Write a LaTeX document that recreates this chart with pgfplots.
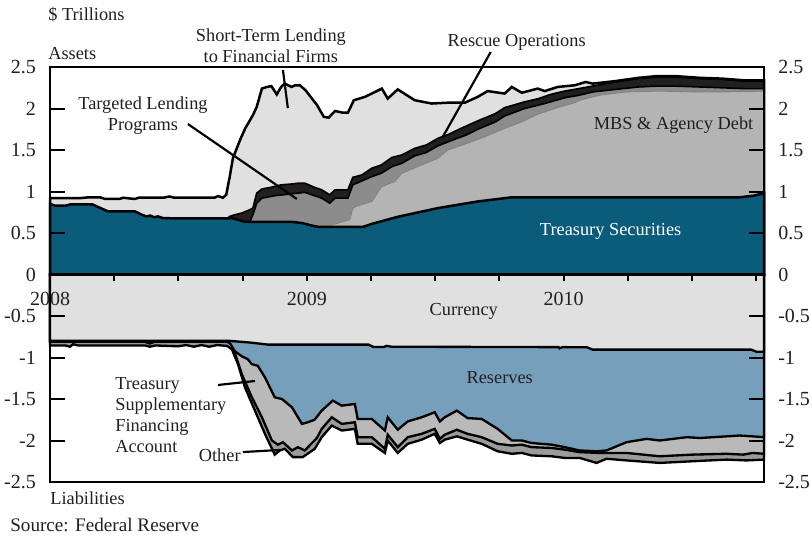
\documentclass[border=0pt]{standalone}
\usepackage{fontspec}
\setmainfont{Liberation Serif}
\usepackage{pgfplots}
\pgfplotsset{compat=1.18}
\usepackage{pgfplotstable}
\definecolor{tsec}{RGB}{11,92,122}
\definecolor{ltgray}{RGB}{224,224,224}
\definecolor{blk}{RGB}{35,31,32}
\definecolor{dgray}{RGB}{140,140,140}
\definecolor{mgray}{RGB}{180,180,180}
\definecolor{resblue}{RGB}{118,159,188}
\definecolor{tsfa}{RGB}{185,185,185}
\definecolor{oth}{RGB}{155,155,155}
\definecolor{txt}{RGB}{35,31,32}

% ---- Assets: cumulative upper boundaries (x in years) ----
\pgfplotstableread{
x y
2008.000 0.92
2008.117 0.92
2008.150 0.93
2008.195 0.93
2008.215 0.91
2008.270 0.91
2008.285 0.925
2008.330 0.91
2008.345 0.925
2008.440 0.925
2008.465 0.94
2008.485 0.925
2008.640 0.925
2008.655 0.945
2008.673 0.925
2008.686 0.96
2008.700 1.18
2008.712 1.40
2008.740 1.62
2008.760 1.76
2008.790 1.92
2008.805 2.02
2008.825 2.24
2008.845 2.26
2008.862 2.27
2008.883 2.17
2008.900 2.26
2008.914 2.30
2008.940 2.26
2008.955 2.28
2008.973 2.28
2008.995 2.22
2009.020 2.12
2009.040 2.04
2009.066 1.90
2009.085 1.89
2009.110 1.97
2009.140 1.95
2009.160 1.95
2009.183 2.10
2009.226 2.14
2009.253 2.18
2009.292 2.24
2009.315 2.12
2009.354 2.23
2009.420 2.10
2009.486 2.06
2009.549 2.07
2009.615 2.07
2009.665 2.14
2009.704 2.21
2009.770 2.18
2009.798 2.26
2009.837 2.19
2009.899 2.24
2009.926 2.21
2009.977 2.26
2010.043 2.28
2010.086 2.32
2010.113 2.30
2010.200 2.33
2010.292 2.37
2010.360 2.39
2010.436 2.39
2010.530 2.37
2010.619 2.36
2010.700 2.34
2010.780 2.34
}\tST
\pgfplotstableread{
x y
2008.000 0.50
2008.680 0.50
2008.690 0.675
2008.700 0.70
2008.720 0.72
2008.747 0.74
2008.778 0.78
2008.790 0.80
2008.805 0.98
2008.825 1.03
2008.860 1.05
2008.900 1.08
2008.940 1.09
2008.965 1.10
2008.992 1.10
2009.030 1.05
2009.058 1.02
2009.089 0.96
2009.110 1.02
2009.160 1.02
2009.179 1.17
2009.215 1.20
2009.253 1.28
2009.290 1.32
2009.331 1.41
2009.370 1.44
2009.420 1.52
2009.465 1.56
2009.510 1.64
2009.553 1.69
2009.600 1.76
2009.665 1.85
2009.735 1.94
2009.770 2.01
2009.848 2.08
2009.903 2.12
2009.950 2.17
2010.004 2.21
2010.060 2.24
2010.113 2.27
2010.200 2.32
2010.292 2.36
2010.360 2.38
2010.436 2.38
2010.530 2.36
2010.619 2.35
2010.700 2.33
2010.780 2.33
}\tRO
\pgfplotstableread{
x y
2008.000 0.50
2008.770 0.50
2008.778 0.635
2008.790 0.72
2008.805 0.86
2008.825 0.92
2008.875 0.95
2008.934 0.97
2008.992 0.99
2009.030 0.95
2009.058 0.92
2009.089 0.86
2009.110 0.92
2009.160 0.92
2009.179 1.08
2009.253 1.18
2009.290 1.22
2009.331 1.30
2009.370 1.34
2009.420 1.43
2009.465 1.47
2009.510 1.55
2009.576 1.63
2009.620 1.68
2009.665 1.75
2009.735 1.84
2009.770 1.91
2009.848 2.00
2009.926 2.06
2010.004 2.13
2010.060 2.16
2010.113 2.20
2010.200 2.23
2010.292 2.26
2010.360 2.27
2010.436 2.27
2010.530 2.26
2010.619 2.25
2010.700 2.24
2010.780 2.24
}\tTL
\pgfplotstableread{
x y
2008.000 0.50
2009.060 0.50
2009.070 0.575
2009.100 0.60
2009.167 0.66
2009.180 0.80
2009.190 0.82
2009.253 0.88
2009.292 1.06
2009.342 1.12
2009.370 1.22
2009.432 1.30
2009.510 1.40
2009.549 1.50
2009.615 1.57
2009.693 1.66
2009.770 1.76
2009.837 1.84
2009.899 1.93
2009.965 2.00
2010.043 2.07
2010.062 2.10
2010.140 2.16
2010.245 2.20
2010.374 2.21
2010.502 2.20
2010.634 2.20
2010.780 2.21
}\tMB
\pgfplotstableread{
x y
2008.000 0.85
2008.020 0.83
2008.060 0.83
2008.080 0.845
2008.165 0.845
2008.226 0.76
2008.331 0.76
2008.358 0.72
2008.375 0.70
2008.390 0.71
2008.405 0.69
2008.420 0.70
2008.440 0.68
2008.500 0.675
2008.690 0.675
2008.708 0.68
2008.759 0.635
2008.940 0.635
2008.981 0.62
2009.019 0.59
2009.043 0.575
2009.220 0.575
2009.253 0.61
2009.354 0.695
2009.510 0.80
2009.665 0.88
2009.798 0.93
2010.685 0.93
2010.740 0.95
2010.780 0.98
}\tTS

% ---- Liabilities: cumulative lower boundaries ----
\pgfplotstableread{
x y
2008.000 -0.80
2008.700 -0.80
2008.780 -0.82
2008.850 -0.845
2009.240 -0.845
2009.260 -0.873
2009.300 -0.873
2009.310 -0.86
2009.330 -0.87
2009.980 -0.875
2009.984 -0.89
2009.995 -0.875
2010.090 -0.877
2010.113 -0.905
2010.730 -0.905
2010.750 -0.93
2010.780 -0.93
}\tCU
\pgfplotstableread{
x y
2008.000 -0.81
2008.370 -0.81
2008.389 -0.83
2008.405 -0.81
2008.689 -0.81
2008.700 -0.825
2008.720 -0.925
2008.747 -0.985
2008.770 -1.02
2008.786 -1.08
2008.809 -1.10
2008.837 -1.24
2008.875 -1.48
2008.903 -1.50
2008.942 -1.60
2008.981 -1.80
2009.004 -1.78
2009.030 -1.75
2009.058 -1.64
2009.101 -1.52
2009.136 -1.58
2009.187 -1.56
2009.198 -1.74
2009.253 -1.74
2009.304 -1.88
2009.315 -1.72
2009.354 -1.87
2009.393 -1.77
2009.447 -1.72
2009.498 -1.66
2009.518 -1.77
2009.537 -1.72
2009.584 -1.64
2009.626 -1.73
2009.681 -1.74
2009.743 -1.86
2009.798 -2.00
2009.837 -2.00
2009.875 -2.03
2009.953 -2.05
2010.004 -2.08
2010.062 -2.12
2010.128 -2.13
2010.167 -2.12
2010.245 -2.02
2010.323 -1.98
2010.374 -2.00
2010.479 -1.96
2010.530 -1.97
2010.634 -1.95
2010.685 -1.94
2010.735 -1.95
2010.780 -1.96
}\tRE
\pgfplotstableread{
x y
2008.000 -0.81
2008.370 -0.81
2008.389 -0.83
2008.405 -0.81
2008.689 -0.81
2008.708 -0.83
2008.720 -0.95
2008.747 -1.20
2008.786 -1.48
2008.825 -1.72
2008.864 -2.00
2008.887 -2.05
2008.907 -2.02
2008.942 -2.12
2008.965 -2.08
2008.992 -2.12
2009.039 -1.97
2009.058 -1.86
2009.097 -1.72
2009.136 -1.80
2009.187 -1.78
2009.198 -1.96
2009.253 -1.96
2009.304 -2.10
2009.315 -1.93
2009.354 -2.08
2009.393 -1.96
2009.447 -1.92
2009.498 -1.86
2009.518 -1.98
2009.537 -1.93
2009.584 -1.87
2009.626 -1.92
2009.681 -1.96
2009.743 -2.04
2009.798 -2.06
2009.837 -2.05
2009.875 -2.08
2009.953 -2.09
2010.004 -2.11
2010.062 -2.14
2010.140 -2.15
2010.245 -2.15
2010.374 -2.19
2010.502 -2.17
2010.634 -2.16
2010.700 -2.17
2010.735 -2.15
2010.780 -2.16
}\tTF
\pgfplotstableread{
x y
2008.000 -0.855
2008.060 -0.855
2008.078 -0.87
2008.090 -0.84
2008.110 -0.855
2008.370 -0.855
2008.389 -0.87
2008.410 -0.855
2008.500 -0.865
2008.530 -0.85
2008.560 -0.87
2008.590 -0.85
2008.620 -0.87
2008.650 -0.85
2008.689 -0.86
2008.708 -0.90
2008.732 -1.08
2008.759 -1.36
2008.798 -1.64
2008.837 -1.92
2008.875 -2.17
2008.895 -2.12
2008.914 -2.10
2008.946 -2.20
2008.984 -2.20
2009.031 -2.10
2009.058 -1.96
2009.097 -1.82
2009.136 -1.88
2009.187 -1.86
2009.198 -2.04
2009.253 -2.04
2009.304 -2.15
2009.315 -2.00
2009.354 -2.15
2009.393 -2.04
2009.447 -1.99
2009.498 -1.92
2009.518 -2.03
2009.537 -1.99
2009.584 -1.95
2009.626 -1.99
2009.681 -2.04
2009.743 -2.13
2009.798 -2.16
2009.837 -2.15
2009.875 -2.18
2009.953 -2.19
2010.004 -2.21
2010.062 -2.21
2010.128 -2.27
2010.167 -2.22
2010.245 -2.24
2010.374 -2.27
2010.502 -2.25
2010.634 -2.23
2010.712 -2.24
2010.780 -2.23
}\tOT

\begin{document}
\begin{tikzpicture}
\useasboundingbox (-30pt,-36pt) rectangle (457.2pt,289.2pt);
% x axis runs in years after the start of 2008
\begin{axis}[
  at={(0,0)}, anchor=south west,
  scale only axis, width=428.4pt, height=249pt,
  xmin=0, xmax=2.78, ymin=-2.5, ymax=2.5,
  clip=false, axis on top,
  xtick=\empty,
  ytick={-2.5,-2,-1.5,-1,-0.5,0,0.5,1,1.5,2,2.5},
  yticklabels={-2.5,-2,-1.5,-1,-0.5,0,0.5,1,1.5,2,2.5},
  ytick pos=both, yticklabel pos=left,
  tick align=inside, major tick length=9pt,
  axis line style={line width=1.4pt, black},
  every tick/.style={black, line width=1.2pt},
  yticklabel style={font=\fontsize{12}{12}\selectfont, text=txt, xshift=-5pt},
  every axis plot/.append style={x filter/.expression={x-2008}},
]
% assets
\addplot[fill=ltgray, draw=black, line width=1.5pt] table {\tST} \closedcycle;
\addplot[fill=blk, draw=black, line width=1pt] table {\tRO} \closedcycle;
\addplot[fill=dgray, draw=black, line width=1pt] table {\tTL} \closedcycle;
\addplot[fill=mgray, draw=gray, line width=0.5pt] table {\tMB} \closedcycle;
\addplot[fill=tsec, draw=black, line width=1.5pt] table {\tTS} \closedcycle;
% liabilities
\addplot[fill=oth, draw=black, line width=1.4pt] table {\tOT} \closedcycle;
\addplot[fill=tsfa, draw=black, line width=1.4pt] table {\tTF} \closedcycle;
\addplot[fill=resblue, draw=black, line width=1.4pt] table {\tRE} \closedcycle;
\addplot[fill=ltgray, draw=black, line width=1.4pt] table {\tCU} \closedcycle;

% zero line and x ticks
\draw[line width=1.6pt, black] (axis cs:0,0) -- (axis cs:2.78,0);
\pgfplotsinvokeforeach{0.25,0.5,0.75,1,1.25,1.5,1.75,2,2.25,2.5,2.75}{
  \draw[line width=1.2pt, black] (axis cs:#1,0) -- (axis cs:#1,-0.075);
}
\node[font=\fontsize{12}{12}\selectfont, text=txt] at (axis cs:0,-0.30) {2008};
\node[font=\fontsize{12}{12}\selectfont, text=txt] at (axis cs:1,-0.30) {2009};
\node[font=\fontsize{12}{12}\selectfont, text=txt] at (axis cs:2,-0.30) {2010};
% right tick labels
\pgfplotsinvokeforeach{-2.5,-2,-1.5,-1,-0.5,0,0.5,1,1.5,2,2.5}{
  \node[anchor=west, font=\fontsize{12}{12}\selectfont, text=txt, inner sep=0pt] at (axis cs:2.78,#1) [xshift=8.4pt] {#1};
}

% annotations
\begin{scope}[every node/.style={font=\fontsize{11}{12.6}\selectfont, text=txt}]
\node[align=center] at (axis cs:0.860,2.753) {Short-Term Lending\\to Financial Firms};
\draw[line width=1.3pt] (axis cs:0.907,2.464) -- (axis cs:0.926,2.006);
\node[align=center] at (axis cs:0.362,1.910) {Targeted Lending\\Programs};
\draw[line width=1.3pt] (axis cs:0.537,1.813) -- (axis cs:0.961,0.910);
\node at (axis cs:1.817,2.801) {Rescue Operations};
\draw[line width=1.3pt] (axis cs:1.716,2.681) -- (axis cs:1.529,1.657);
\node at (axis cs:2.428,1.801) {MBS \& Agency Debt};
\node[text=white] at (axis cs:2.183,0.524) {Treasury Securities};
\node at (axis cs:1.611,-0.440) {Currency};
\node at (axis cs:1.751,-1.247) {Reserves};
\node[align=left, anchor=west, inner sep=0pt] at (axis cs:0.253,-1.693) {Treasury\\Supplementary\\Financing\\Account};
\draw[line width=1.3pt] (axis cs:0.654,-1.331) -- (axis cs:0.798,-1.283);
\node at (axis cs:0.661,-2.175) {Other};
\draw[line width=1.3pt] (axis cs:0.751,-2.139) -- (axis cs:0.895,-2.114);
\node[anchor=west, inner sep=0pt] at (axis cs:-0.008,2.657) {Assets};
\node[anchor=west, inner sep=0pt] at (axis cs:-0.008,3.127) {\$ Trillions};
\node[anchor=west, inner sep=0pt] at (axis cs:0,-2.693) {Liabilities};
\node[anchor=west, inner sep=0pt, font=\fontsize{11.5}{12}\selectfont] at (axis cs:-0.156,-3.018) {Source: Federal Reserve};
\end{scope}
\end{axis}
\end{tikzpicture}
\end{document}
